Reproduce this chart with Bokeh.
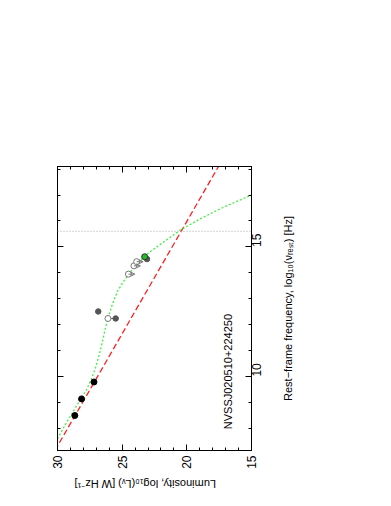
import numpy as np
from bokeh.plotting import figure
from bokeh.layouts import row, column
from bokeh.models import (Range1d, LinearAxis, SingleIntervalTicker, Arrow,
                          OpenHead, ColumnDataSource, Span, CustomJSTickFormatter)
from bokeh.embed import file_html
from bokeh.resources import INLINE
from bokeh.core.properties import value

# ---------------- data (x: log10 L_nu, y: log10 nu_rest) ----------------
radio_nu = [8.50, 9.14, 9.79]
radio_L = [28.66, 28.14, 27.18]

grey_nu = [12.51, 14.53]
grey_L = [26.85, 23.08]

pair_nu = [12.24]
pair_open_L = [26.10]
pair_fill_L = [25.50]

lim_nu = [13.95, 14.27, 14.43]
lim_L = [24.52, 24.09, 23.88]
lim_end_L = [24.02, 23.59, 23.38]

green_nu = [14.62]
green_L = [23.26]

model_nu = [7.60, 8.10, 8.60, 9.10, 9.50, 9.90, 10.40, 10.90, 11.40, 11.80,
            12.25, 12.80, 13.30, 13.70, 14.20, 14.70, 15.15, 15.65, 16.10,
            16.50, 17.00]
model_L = [30.00, 29.45, 28.85, 28.25, 27.75, 27.38, 27.02, 26.74, 26.50,
           26.33, 26.10, 25.75, 25.35, 24.85, 24.10, 23.15, 21.90, 20.50,
           18.90, 17.30, 15.00]

powerlaw_nu = [7.15, 18.20]
powerlaw_L = [30.20, 17.44]

lyman_nu = 15.60

source_name = "NVSSJ020510+224250"
label_nu = 7.97
label_L = 16.85

x_title = "Luminosity, log\u2081\u2080(L\u1d65) [W Hz\u207b\u00b9]"
y_title = "Rest\u2212frame frequency, log\u2081\u2080(\u03bd\u1d63\u2091\u209b\u209c) [Hz]"

FONT = "Liberation Sans"

p = figure(width=278, height=472,
           x_range=Range1d(30, 15), y_range=Range1d(7.15, 18.1),
           output_backend="svg", toolbar_location=None,
           x_axis_location=None, y_axis_location=None,
           min_border_left=57, min_border_top=166,
           min_border_right=27, min_border_bottom=22)
p.grid.visible = False
p.outline_line_color = "black"
p.outline_line_width = 1
p.background_fill_color = "white"


def make_axis(show_labels=True, orient=np.pi / 2):
    ax = LinearAxis(ticker=SingleIntervalTicker(interval=5, num_minor_ticks=5))
    ax.major_tick_in = 6
    ax.major_tick_out = 0
    ax.minor_tick_in = 3
    ax.minor_tick_out = 0
    ax.axis_line_color = "black"
    ax.major_tick_line_color = "black"
    ax.minor_tick_line_color = "black"
    ax.major_label_text_font = FONT
    ax.major_label_text_font_size = "12px"
    ax.major_label_text_color = "black"
    ax.major_label_orientation = orient
    ax.major_label_standoff = 5
    if not show_labels:
        ax.formatter = CustomJSTickFormatter(code="return ''")
        ax.major_label_standoff = 0
    return ax


p.add_layout(make_axis(), "below")
p.add_layout(make_axis(show_labels=False), "above")
p.add_layout(make_axis(show_labels=False), "left")
p.add_layout(make_axis(), "right")

# grey dotted reference line
p.add_layout(Span(location=lyman_nu, dimension="width", line_color="#aaaaaa",
                  line_dash="1 2", line_width=1))

# power law (red dashed)
p.line(powerlaw_L, powerlaw_nu, line_color="#ff2020", line_dash="6 3",
       line_width=1.3)
# model curve (green dotted)
p.line(model_L, model_nu, line_color="#44ee44", line_dash="2 2",
       line_width=1.3)

# upper limit arrows
lim_src = ColumnDataSource(dict(x0=lim_L, y0=lim_nu, x1=lim_end_L, y1=lim_nu))
p.add_layout(Arrow(end=OpenHead(size=4, line_color="#777777", line_width=1),
                   x_start="x0", y_start="y0", x_end="x1", y_end="y1",
                   line_color="#777777", line_width=1, source=lim_src))
p.segment(x0=pair_open_L, y0=pair_nu, x1=pair_fill_L, y1=pair_nu,
          line_color="#555555", line_width=1)

# points
p.scatter(radio_L, radio_nu, size=6, fill_color="black", line_color="black")
p.scatter(grey_L, grey_nu, size=5.5, fill_color="#555555", line_color="#555555")
p.scatter(pair_fill_L, pair_nu, size=5.5, fill_color="#555555",
          line_color="#555555")
p.scatter(lim_L, lim_nu, size=6, fill_color="white", line_color="#777777")
p.scatter(pair_open_L, pair_nu, size=6, fill_color="white", line_color="#777777")
p.scatter(green_L, green_nu, size=6, fill_color="#22bb22", line_color="#333333")

p.text([label_L], [label_nu], text=[source_name], angle=np.pi / 2,
       text_font=value(FONT), text_font_size="11px", text_color="black",
       text_align="left", text_baseline="middle")


def title_axis(ax, text, standoff):
    ax.axis_label = text
    ax.axis_label_text_font = FONT
    ax.axis_label_text_font_size = "11px"
    ax.axis_label_text_font_style = "normal"
    ax.axis_label_text_color = "black"
    ax.axis_label_standoff = standoff
    ax.formatter = CustomJSTickFormatter(code="return ''")
    ax.major_label_standoff = 0
    ax.axis_line_color = None
    ax.major_tick_line_color = None
    ax.minor_tick_line_color = None
    ax.major_tick_out = 0
    ax.minor_tick_out = 0


# companion panel carrying the frequency-axis title (reads upward)
q = figure(width=60, height=472, x_range=Range1d(0, 1),
           y_range=Range1d(7.15, 18.1),
           output_backend="svg", toolbar_location=None,
           x_axis_location=None, y_axis_location="left",
           min_border_left=15, min_border_top=166,
           min_border_right=0, min_border_bottom=22)
q.grid.visible = False
q.outline_line_color = None
title_axis(q.yaxis[0], y_title, 0)

# companion strip carrying the luminosity-axis title (upside down)
r = figure(width=268, height=26, x_range=Range1d(0, 1), y_range=Range1d(0, 1),
           output_backend="svg", toolbar_location=None,
           x_axis_location="below", y_axis_location=None,
           min_border_left=0, min_border_right=120,
           min_border_top=0, min_border_bottom=24)
r.grid.visible = False
r.outline_line_color = None
title_axis(r.xaxis[0], x_title, 10)
r.xaxis[0].axis_label_orientation = np.pi

layout = column(row(p, q, spacing=0), r, spacing=0)
open("out.html", "w").write(file_html(layout, INLINE))
